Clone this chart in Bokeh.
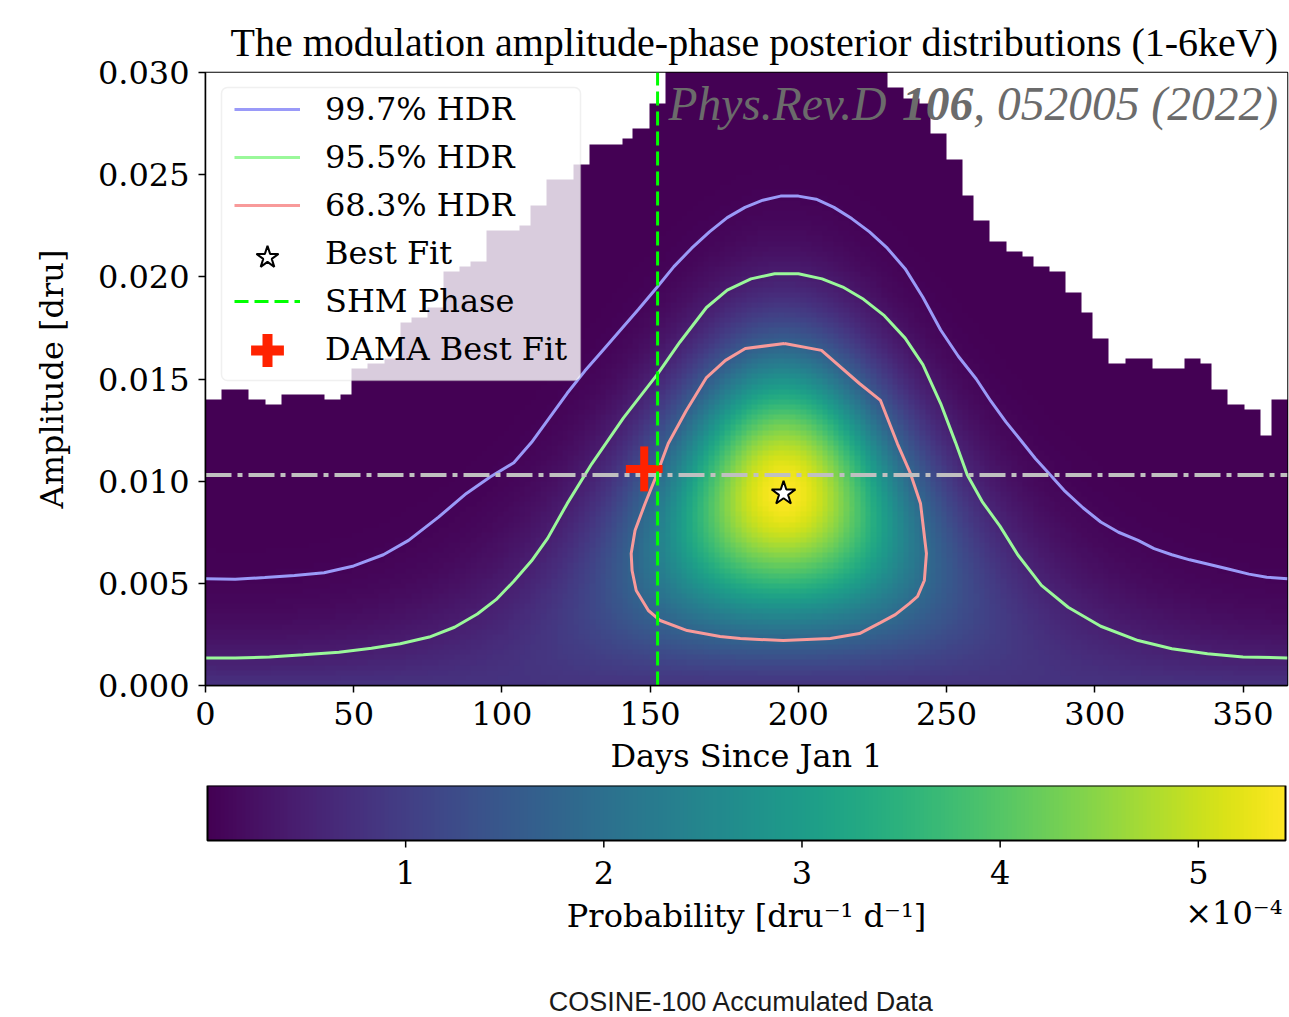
import numpy as np
from bokeh.plotting import figure
from bokeh.models import (LinearColorMapper, Label, Legend, LegendItem, BoxAnnotation,
                          FixedTicker, PrintfTickFormatter)
from bokeh.core.properties import value
from bokeh.layouts import column
from bokeh.palettes import Viridis256
from bokeh.embed import file_html
from bokeh.resources import INLINE

# ---------------- data ----------------
TITLE = "The modulation amplitude-phase posterior distributions (1-6keV)"
DAY_RANGE = (0, 365)
AMP_RANGE = (0.0, 0.030)
X_TICKS = [0, 50, 100, 150, 200, 250, 300, 350]
Y_TICKS = [0.000, 0.005, 0.010, 0.015, 0.020, 0.025, 0.030]
CB_TICKS = [1, 2, 3, 4, 5]          # colour bar ticks, units of 1e-4
CB_TICK_LABELS = ["1", "2", "3", "4", "5"]
CB_MAX = 5.44                       # colour bar top, units of 1e-4

# posterior blob (peak location / width / height)
BEST_FIT_DAY = 195.0
BEST_FIT_AMP = 0.0094
POSTERIOR_SIGMA = 0.0048
PEAK_DENSITY = 5.44e-4
PERIOD_DAYS = 365.25

# upper edge of the sampled region (white above), 5-day bins starting at day 0
EDGE_BIN = 5
EDGE_AMPS = [0.0140, 0.0144, 0.0146, 0.0139, 0.0138, 0.0142, 0.0143, 0.0143, 0.0141, 0.0142,
             0.0155, 0.0157, 0.0160, 0.0178, 0.0180, 0.0185, 0.0203, 0.0205, 0.0207, 0.0222,
             0.0223, 0.0225, 0.0235, 0.0247, 0.0248, 0.0255, 0.0265, 0.0266, 0.0268, 0.0272,
             0.0285, 0.0305, 0.0305, 0.0305, 0.0305, 0.0305, 0.0305, 0.0305, 0.0305, 0.0305,
             0.0305, 0.0305, 0.0305, 0.0305, 0.0305, 0.0300, 0.0292, 0.0288, 0.0284, 0.0270,
             0.0257, 0.0240, 0.0228, 0.0218, 0.0213, 0.0210, 0.0206, 0.0203, 0.0192, 0.0182,
             0.0170, 0.0158, 0.0160, 0.0160, 0.0154, 0.0155, 0.0160, 0.0157, 0.0146, 0.0138,
             0.0134, 0.0123, 0.0140]

# 99.7% HDR contour
HDR997_DAYS = [0, 10, 20, 30, 40, 50, 60, 68.5, 78.6, 88, 96, 104, 110, 116, 122, 128, 134,
               140, 146, 152.4, 158, 164, 170, 176, 182, 188, 194, 200, 206, 212, 218, 224,
               230, 236, 242, 248, 254, 260, 265, 270, 275, 280, 285, 290, 296, 302, 308,
               314.6, 320, 326, 332, 338, 345, 352, 358, 365]
HDR997_AMPS = [0.00522, 0.00520, 0.00528, 0.00538, 0.00552, 0.00585, 0.00640, 0.00710,
               0.00824, 0.00940, 0.01020, 0.01090, 0.01190, 0.01310, 0.01430, 0.01540,
               0.01640, 0.01740, 0.01840, 0.01950, 0.02050, 0.02140, 0.02220, 0.02290,
               0.02340, 0.02375, 0.02395, 0.02395, 0.02380, 0.02340, 0.02285, 0.02220,
               0.02140, 0.02040, 0.01900, 0.01740, 0.01610, 0.01500, 0.01390, 0.01290,
               0.01200, 0.01110, 0.01030, 0.00950, 0.00870, 0.00800, 0.00750, 0.00710,
               0.00670, 0.00640, 0.00615, 0.00595, 0.00570, 0.00545, 0.00530, 0.00522]
# 95.5% HDR contour
HDR955_DAYS = [0, 10, 21.6, 33, 45, 56, 65.7, 75.5, 84, 91.7, 98, 104, 110, 115.4, 122,
               130.3, 141, 152.6, 160, 169, 176, 184, 192, 200, 208, 215, 222, 229, 236,
               242, 248, 253, 257, 262, 268, 274, 282, 291, 302, 314.6, 326, 338, 350, 365]
HDR955_AMPS = [0.00135, 0.00135, 0.00139, 0.00150, 0.00163, 0.00182, 0.00204, 0.00237,
               0.00285, 0.00350, 0.00420, 0.00510, 0.00610, 0.00720, 0.00890, 0.01085,
               0.01310, 0.01526, 0.01680, 0.01850, 0.01935, 0.01990, 0.02015, 0.02015,
               0.01990, 0.01950, 0.01890, 0.01810, 0.01700, 0.01570, 0.01380, 0.01190,
               0.01030, 0.00900, 0.00780, 0.00640, 0.00490, 0.00383, 0.00290, 0.00220,
               0.00180, 0.00155, 0.00140, 0.00135]
# 68.3% HDR contour (closed)
HDR683_DAYS = [195.3, 207.8, 220.6, 227.7, 233.4, 237.8, 241.2, 243.2, 242.5, 240.2, 237.4,
               232.7, 227.7, 220.6, 210.8, 194.9, 180.4, 173.6, 162.5, 153.4, 149.4, 145.3,
               143.9, 143.6, 144.9, 148.3, 151.7, 156.1, 162.2, 169.0, 175.4, 182.1, 195.3]
HDR683_AMPS = [0.01674, 0.01640, 0.01478, 0.01395, 0.01184, 0.01038, 0.00891, 0.00646,
               0.00514, 0.00436, 0.00401, 0.00347, 0.00308, 0.00254, 0.00230, 0.00220,
               0.00230, 0.00240, 0.00269, 0.00318, 0.00367, 0.00465, 0.00563, 0.00646,
               0.00759, 0.00891, 0.01013, 0.01184, 0.01346, 0.01507, 0.01591, 0.01649,
               0.01674]

SHM_DAY = 152.5
DAMA_DAY, DAMA_DAY_ERR = 148.0, 6.2
DAMA_AMP, DAMA_AMP_ERR = 0.0106, 0.0011
DAMA_LINE_AMP = 0.0103

LEGEND_LABELS = ["99.7% HDR", "95.5% HDR", "68.3% HDR", "Best Fit", "SHM Phase", "DAMA Best Fit"]

# ---------------- styles ----------------
BLUE, GREEN, PINK = "#9a9af8", "#9af89a", "#f89a9a"
RED = "#ff2200"
SERIF = "DejaVu Serif"
FS = "32px"

# ---------------- density image ----------------
NX, NY = 200, 120
days_c = (np.arange(NX) + 0.5) * (DAY_RANGE[1] - DAY_RANGE[0]) / NX
amps_c = (np.arange(NY) + 0.5) * (AMP_RANGE[1] - AMP_RANGE[0]) / NY
D, A = np.meshgrid(days_c, amps_c)
dphi = 2 * np.pi * (D - BEST_FIT_DAY) / PERIOD_DAYS
dist2 = A ** 2 + BEST_FIT_AMP ** 2 - 2 * A * BEST_FIT_AMP * np.cos(dphi)
dens = PEAK_DENSITY * np.exp(-dist2 / (2 * POSTERIOR_SIGMA ** 2))
edge = np.array(EDGE_AMPS)[np.minimum((D // EDGE_BIN).astype(int), len(EDGE_AMPS) - 1)]
dens[A > edge] = np.nan

mapper = LinearColorMapper(palette=Viridis256, low=0, high=PEAK_DENSITY, nan_color="white")

W = 1289
p = figure(width=W, height=785, x_range=DAY_RANGE, y_range=AMP_RANGE, title=TITLE,
           output_backend="svg", toolbar_location=None,
           min_border_left=205, min_border_right=2, min_border_top=72, min_border_bottom=100)
p.grid.visible = False
p.background_fill_color = "white"
p.outline_line_color = "black"
p.outline_line_width = 1.5
p.title.text_font = "Liberation Serif"
p.title.text_font_size = "40px"
p.title.text_font_style = "normal"
p.title.text_color = "black"
p.title.align = "left"
p.title.standoff = 16
p.title.offset = 25

p.image(image=[dens], x=DAY_RANGE[0], y=AMP_RANGE[0], dw=DAY_RANGE[1] - DAY_RANGE[0],
        dh=AMP_RANGE[1] - AMP_RANGE[0], color_mapper=mapper)

r997 = p.line(HDR997_DAYS, HDR997_AMPS, line_color=BLUE, line_width=3)
r955 = p.line(HDR955_DAYS, HDR955_AMPS, line_color=GREEN, line_width=3)
r683 = p.line(HDR683_DAYS, HDR683_AMPS, line_color=PINK, line_width=3)
p.line(list(DAY_RANGE), [DAMA_LINE_AMP, DAMA_LINE_AMP], line_color="#c0c0c0", line_width=4,
       line_dash="26 6 5 6")
p.segment(x0=[DAMA_DAY - DAMA_DAY_ERR, DAMA_DAY], y0=[DAMA_AMP, DAMA_AMP - DAMA_AMP_ERR],
          x1=[DAMA_DAY + DAMA_DAY_ERR, DAMA_DAY], y1=[DAMA_AMP, DAMA_AMP + DAMA_AMP_ERR],
          line_color=RED, line_width=8)
rshm = p.line([SHM_DAY, SHM_DAY], list(AMP_RANGE), line_color="#00ff00", line_width=3,
              line_dash="14 6")
rstar = p.scatter([BEST_FIT_DAY], [BEST_FIT_AMP], marker="star", size=25, fill_color="white",
                  line_color="black", line_width=2)
ghost = p.scatter([np.nan], [np.nan], marker="star", size=1, fill_alpha=0, line_alpha=0)
rcross = p.scatter([np.nan], [np.nan], marker="cross", size=33, line_color=RED, line_width=10)

# axes
for ax in (p.xaxis[0], p.yaxis[0]):
    ax.major_label_text_font = SERIF
    ax.major_label_text_font_size = FS
    ax.axis_label_text_font = SERIF
    ax.axis_label_text_font_size = FS
    ax.axis_label_text_font_style = "normal"
    ax.major_tick_out = 7
    ax.major_tick_in = 0
    ax.minor_tick_out = 0
    ax.minor_tick_in = 0
    ax.major_tick_line_width = 1.5
    ax.axis_line_width = 1.5
    ax.major_label_text_color = "black"
    ax.axis_label_text_color = "black"
p.xaxis.ticker = FixedTicker(ticks=X_TICKS)
p.yaxis.ticker = FixedTicker(ticks=Y_TICKS)
p.yaxis.formatter = PrintfTickFormatter(format="%.3f")
p.xaxis.axis_label = "Days Since Jan 1"
p.yaxis.axis_label = "Amplitude [dru]"
p.xaxis.major_label_standoff = 9
p.xaxis.axis_label_standoff = 9
p.yaxis.major_label_standoff = 9
p.yaxis.axis_label_standoff = 24

# legend frame
box = BoxAnnotation(left=16, right=375, top=598, bottom=305,
                    left_units="screen", right_units="screen",
                    top_units="screen", bottom_units="screen",
                    fill_color="white", fill_alpha=0.8, line_color="#cccccc", line_width=1.5)
try:
    box.border_radius = 6
except Exception:
    pass
p.add_layout(box)

leg_common = dict(background_fill_alpha=0, border_line_alpha=0, margin=0, padding=0,
                  label_text_font=SERIF, label_text_font_size=FS, label_text_color="black")
L1 = Legend(items=[LegendItem(label=LEGEND_LABELS[0], renderers=[r997]),
                   LegendItem(label=LEGEND_LABELS[1], renderers=[r955]),
                   LegendItem(label=LEGEND_LABELS[2], renderers=[r683]),
                   LegendItem(label=LEGEND_LABELS[3], renderers=[ghost]),
                   LegendItem(label=LEGEND_LABELS[4], renderers=[rshm]),
                   LegendItem(label=LEGEND_LABELS[5], renderers=[ghost])],
            location=(29, 317), spacing=10, glyph_width=66, glyph_height=36, label_height=36,
            label_standoff=25, **leg_common)
L2 = Legend(items=[LegendItem(label=" ", renderers=[rstar])], location=(33, 399),
            glyph_width=58, glyph_height=58, label_height=20, label_standoff=0, **leg_common)
L3 = Legend(items=[LegendItem(label=" ", renderers=[rcross])], location=(21, 294),
            glyph_width=82, glyph_height=82, label_height=20, label_standoff=0, **leg_common)
p.add_layout(L1)
p.add_layout(L2)
p.add_layout(L3)

# watermark (inside the frame)
WM = 47.5
wm_x = 463
wm_y = 582
parts = [("Phys.Rev.D", "italic", 0.0), ("106", "bold italic", 4.915),
         (", 052005 (2022)", "italic", 6.415)]
for txt, style, off in parts:
    p.add_layout(Label(x=wm_x + off * WM, y=wm_y, x_units="screen", y_units="screen", text=txt,
                       text_font="Liberation Serif", text_font_style=style,
                       text_font_size=f"{WM}px", text_color="#6b6b6b",
                       text_baseline="alphabetic"))

# ---------------- colour bar figure (y in pixels below/above the bar's bottom) ----------------
CB_BAR_H = 55
CB_BELOW = 177
px = CB_MAX / 1082.0
cb_mapper = LinearColorMapper(palette=Viridis256, low=0, high=CB_MAX)
p2 = figure(width=W, height=CB_BAR_H + CB_BELOW, x_range=(-2 * px, CB_MAX + 2 * px),
            y_range=(-CB_BELOW, CB_BAR_H), output_backend="svg", toolbar_location=None,
            x_axis_location=None, y_axis_location=None,
            min_border_left=203, min_border_right=0, min_border_top=0, min_border_bottom=0)
p2.grid.visible = False
p2.outline_line_color = None
p2.image(image=[np.linspace(0, CB_MAX, 256)[None, :]], x=0, y=0, dw=CB_MAX, dh=CB_BAR_H,
         color_mapper=cb_mapper)
p2.quad(left=[0], right=[CB_MAX], bottom=[0], top=[CB_BAR_H], fill_alpha=0,
        line_color="black", line_width=2)
p2.segment(x0=CB_TICKS, x1=CB_TICKS, y0=[0] * len(CB_TICKS), y1=[-7] * len(CB_TICKS),
           line_color="black", line_width=1.5)
p2.text(x=CB_TICKS, y=[-32] * len(CB_TICKS), text=CB_TICK_LABELS, text_font=value(SERIF),
        text_font_size=FS, text_align="center", text_baseline="middle", text_color="black")
p2.text(x=[CB_MAX / 2], y=[-75], text=["Probability [dru\u207b\u00b9 d\u207b\u00b9]"],
        text_font=value(SERIF), text_font_size=FS, text_align="center",
        text_baseline="middle", text_color="black")
p2.text(x=[CB_MAX - 3 * px], y=[-72], text=["\u00d710\u207b\u2074"], text_font=value(SERIF),
        text_font_size=FS, text_align="right", text_baseline="middle", text_color="black")
p2.text(x=[CB_MAX / 2 - 5 * px], y=[-161], text=["COSINE-100 Accumulated Data"],
        text_font=value("Liberation Sans"), text_font_size="27px", text_align="center",
        text_baseline="middle", text_color="#1a1a1a")

layout = column(p, p2, spacing=0)
open("out.html", "w").write(file_html(layout, INLINE))
